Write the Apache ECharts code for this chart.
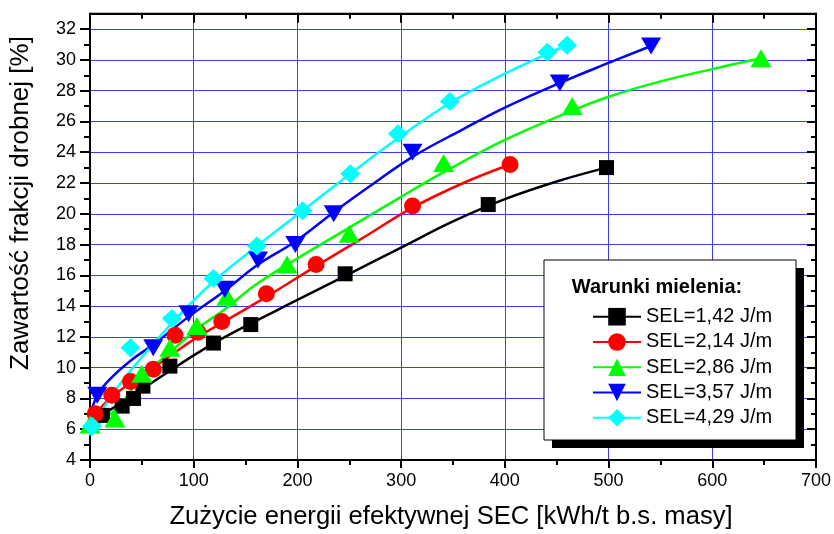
<!DOCTYPE html>
<html>
<head>
<meta charset="utf-8">
<script src="https://cdn.jsdelivr.net/npm/echarts@6/dist/echarts.min.js"></script>
<style>
html, body { margin: 0; padding: 0; background: #fff; }
#chart { width: 834px; height: 534px; }
</style>
</head>
<body>
<div id="chart"></div>
<script>
// Series labels
const seriesNames = ['SEL=1,42 J/m', 'SEL=2,14 J/m', 'SEL=2,86 J/m', 'SEL=3,57 J/m', 'SEL=4,29 J/m'];

// Measured points: SEC [kWh/t] and fine fraction content [%]
const sec142 = [12, 31, 42, 51, 77, 119, 155, 246, 384, 498];
const fine142 = [6.9, 7.5, 8.0, 8.8, 10.1, 11.6, 12.8, 16.1, 20.6, 23.0];
const sec214 = [5, 21, 39, 61, 82, 104, 127, 170, 218, 311, 405];
const fine214 = [7.0, 8.2, 9.1, 9.9, 12.1, 12.3, 13.0, 14.8, 16.7, 20.5, 23.2];
const sec286 = [0, 24, 50, 77, 103, 132, 190, 250, 341, 465, 647];
const fine286 = [6.3, 6.7, 9.6, 11.3, 12.7, 14.6, 16.7, 18.7, 23.3, 27.0, 30.1];
const sec357 = [7, 61, 95, 130, 162, 198, 235, 311, 453, 541];
const fine357 = [8.2, 11.3, 13.5, 15.1, 17.0, 18.0, 20.0, 24.0, 28.5, 30.9];
const sec429 = [2, 39, 79, 119, 161, 205, 251, 297, 347, 441, 460];
const fine429 = [6.2, 11.3, 13.2, 15.8, 17.9, 20.2, 22.6, 25.2, 27.3, 30.5, 30.95];

// Trend curves
const trendSec142 = [2, 12, 30, 50, 75, 100, 125, 150, 200, 250, 300, 350, 400, 450, 498];
const trendFine142 = [6.5, 6.95, 7.7, 8.6, 9.7, 10.8, 11.8, 12.7, 14.4, 16.1, 17.8, 19.5, 20.95, 22.1, 23.0];
const trendSec214 = [1, 5, 21, 39, 61, 82, 104, 127, 170, 218, 260, 311, 360, 405];
const trendFine214 = [6.5, 7.0, 8.1, 9.0, 10.0, 11.0, 12.0, 12.9, 14.6, 16.6, 18.3, 20.4, 22.0, 23.2];
const trendSec286 = [0, 25, 50, 77, 103, 132, 160, 200, 250, 300, 341, 400, 465, 500, 550, 600, 647];
const trendFine286 = [6.0, 7.3, 9.4, 11.0, 12.5, 13.9, 15.4, 17.1, 19.1, 21.1, 22.7, 24.8, 26.7, 27.6, 28.6, 29.4, 30.1];
const trendSec357 = [0, 7, 20, 40, 61, 95, 130, 162, 198, 235, 270, 311, 360, 400, 453, 500, 541];
const trendFine357 = [6.8, 8.2, 9.3, 10.5, 11.5, 13.3, 15.0, 16.7, 18.2, 20.1, 21.8, 23.7, 25.5, 26.9, 28.5, 29.8, 30.9];
const trendSec429 = [0, 2, 20, 39, 79, 119, 161, 205, 251, 297, 347, 400, 441, 460];
const trendFine429 = [5.6, 6.1, 8.1, 9.8, 12.9, 15.6, 17.9, 20.2, 22.6, 24.9, 27.2, 29.1, 30.4, 30.95];

// Axis tick labels
const xTicks = [0, 100, 200, 300, 400, 500, 600, 700];
const yTicks = [4, 6, 8, 10, 12, 14, 16, 18, 20, 22, 24, 26, 28, 30, 32];

const colors = ['#000000', '#ff0000', '#00ff00', '#0000ff', '#00ffff'];
const symbols = ['rect', 'circle', 'triangle', 'triangle', 'diamond'];
const rotations = [0, 0, 0, 180, 0];
const sizes = [[15, 15], [17, 17], [21, 18], [20, 17], [20, 19]];

const measured = [[sec142, fine142], [sec214, fine214], [sec286, fine286], [sec357, fine357], [sec429, fine429]];
const trends = [[trendSec142, trendFine142], [trendSec214, trendFine214], [trendSec286, trendFine286], [trendSec357, trendFine357], [trendSec429, trendFine429]];

const pairs = (xs, ys) => xs.map((x, i) => [x, ys[i]]);

const series = [];
trends.forEach((t, i) => {
  series.push({
    type: 'line',
    name: seriesNames[i],
    data: pairs(t[0], t[1]),
    smooth: 0.4,
    showSymbol: false,
    symbol: symbols[i],
    symbolRotate: rotations[i],
    lineStyle: { color: colors[i], width: 2.5 },
    itemStyle: { color: colors[i] },
    z: 2
  });
});
measured.forEach((m, i) => {
  series.push({
    type: 'scatter',
    name: seriesNames[i],
    data: pairs(m[0], m[1]),
    symbol: symbols[i],
    symbolRotate: rotations[i],
    symbolSize: sizes[i],
    itemStyle: { color: colors[i], opacity: 1 },
    z: 3
  });
});

const font = 'Liberation Sans, Arial, sans-serif';
const gridLine = { show: true, lineStyle: { color: '#3c3cff', width: 1 } };

const chart = echarts.init(document.getElementById('chart'), null, { renderer: 'canvas' });
chart.setOption({
  animation: false,
  backgroundColor: '#ffffff',
  grid: { left: 90, right: 18, top: 13.7, bottom: 74, show: true, borderColor: '#000', borderWidth: 2, backgroundColor: 'transparent' },
  xAxis: [{
    type: 'value', min: 0, max: 700, interval: 100,
    axisLine: { show: true, onZero: false, lineStyle: { color: '#000', width: 2 } },
    axisTick: { show: true, inside: false, length: 8, lineStyle: { color: '#000', width: 2 } },
    minorTick: { show: true, splitNumber: 2, length: 5, lineStyle: { color: '#000', width: 2 } },
    axisLabel: { show: true, margin: 12, fontSize: 18, color: '#000', fontFamily: font, customValues: xTicks },
    splitLine: gridLine
  }, {
    type: 'value', min: 0, max: 700, interval: 100, position: 'top',
    axisLine: { show: true, onZero: false, lineStyle: { color: '#000', width: 2 } },
    axisTick: { show: true, inside: true, length: 9, lineStyle: { color: '#000', width: 2 } },
    minorTick: { show: true, splitNumber: 2, length: 5, lineStyle: { color: '#000', width: 2 } },
    axisLabel: { show: false }, splitLine: { show: false }
  }],
  yAxis: [{
    type: 'value', min: 4, max: 33, interval: 2,
    axisLine: { show: true, onZero: false, lineStyle: { color: '#000', width: 2 } },
    axisTick: { show: true, inside: false, length: 10, lineStyle: { color: '#000', width: 2 }, customValues: yTicks },
    minorTick: { show: true, splitNumber: 2, length: 6, lineStyle: { color: '#000', width: 2 } },
    axisLabel: { show: true, margin: 14, fontSize: 18, color: '#000', fontFamily: font, customValues: yTicks },
    splitLine: gridLine
  }, {
    type: 'value', min: 4, max: 33, interval: 2, position: 'right',
    axisLine: { show: true, onZero: false, lineStyle: { color: '#000', width: 2 } },
    axisTick: { show: true, inside: true, length: 9, lineStyle: { color: '#000', width: 2 }, customValues: yTicks },
    minorTick: { show: true, splitNumber: 2, length: 5, lineStyle: { color: '#000', width: 2 } },
    axisLabel: { show: false }, splitLine: { show: false }
  }],
  legend: {
    data: seriesNames,
    orient: 'vertical',
    left: 544, top: 260,
    padding: [46.7, 25, 11.3, 48],
    itemWidth: 48, itemHeight: 22, itemGap: 5.25,
    textStyle: { fontSize: 20, lineHeight: 20, color: '#000', fontFamily: font },
    selectedMode: false,
    z: 20
  },
  graphic: [
    // legend frame with its drop shadow
    { type: 'rect', z: 10, shape: { x: 552, y: 268, width: 252, height: 180 }, style: { fill: '#000' } },
    { type: 'rect', z: 11, shape: { x: 544, y: 260, width: 252, height: 180 }, style: { fill: '#fff', stroke: '#000', lineWidth: 1 } },
    { type: 'text', z: 30,
      style: { text: 'Warunki mielenia:', x: 657, y: 287, align: 'center', verticalAlign: 'middle', fontSize: 20, fontWeight: 'bold', fontFamily: font, fill: '#000' } },
    // axis titles
    { type: 'text', z: 30,
      style: { text: 'Zużycie energii efektywnej SEC [kWh/t b.s. masy]', x: 451, y: 517, align: 'center', verticalAlign: 'middle', fontSize: 25.6, fontFamily: font, fill: '#000' } },
    { type: 'text', z: 30, rotation: Math.PI / 2, x: 21, y: 203,
      style: { text: 'Zawartość frakcji drobnej [%]', x: 0, y: 0, align: 'center', verticalAlign: 'middle', fontSize: 26, fontFamily: font, fill: '#000' } }
  ],
  series: series
});
</script>
</body>
</html>
